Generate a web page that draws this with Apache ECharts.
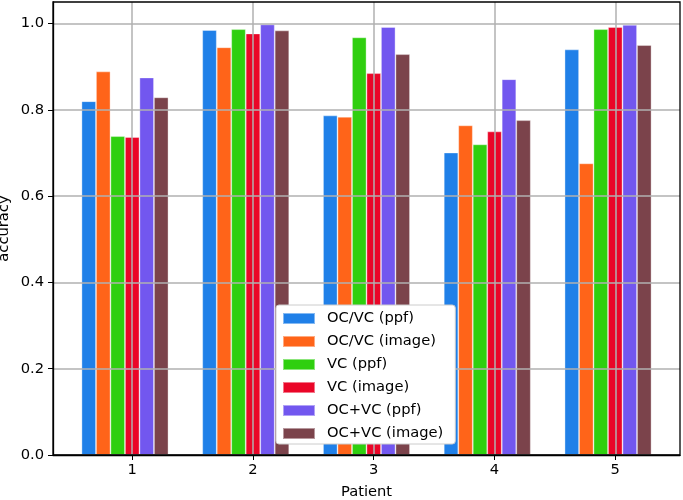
<!DOCTYPE html>
<html>
<head>
<meta charset="utf-8">
<script src="https://cdn.jsdelivr.net/npm/echarts@6/dist/echarts.min.js"></script>
<style>
  html, body { margin: 0; padding: 0; background: #ffffff; }
  #chart { width: 683px; height: 500px; }
</style>
</head>
<body>
<div id="chart"></div>
<script>
// patients on the x axis
var patients = [1, 2, 3, 4, 5];
var yTicks = [0, 0.2, 0.4, 0.6, 0.8, 1.0];

var methodNames = ["OC/VC (ppf)", "OC/VC (image)", "VC (ppf)", "VC (image)", "OC+VC (ppf)", "OC+VC (image)"];
var methodColors = ["#2080e8", "#ff6419", "#2fcf0f", "#ea0628", "#7257ef", "#7b434b"];

var ocvcPpf = [0.820, 0.985, 0.787, 0.701, 0.940];
var ocvcImage = [0.889, 0.945, 0.784, 0.764, 0.676];
var vcPpf = [0.739, 0.987, 0.968, 0.720, 0.987];
var vcImage = [0.737, 0.977, 0.885, 0.750, 0.992];
var ocvcPpfBoth = [0.875, 0.998, 0.992, 0.871, 0.997];
var ocvcImageBoth = [0.829, 0.984, 0.929, 0.776, 0.950];

var allValues = [ocvcPpf, ocvcImage, vcPpf, vcImage, ocvcPpfBoth, ocvcImageBoth];

var BAR_W = 0.12; // bar width in x units
var X_MIN = 0.344;
var X_MAX = 5.536;
var GRID = { left: 53, right: 3, top: 2, bottom: 45 };

var chart = echarts.init(document.getElementById("chart"), null, { renderer: "canvas" });
var plotWidth = 683 - GRID.left - GRID.right;
var barPx = BAR_W * plotWidth / (X_MAX - X_MIN);

var series = methodNames.map(function (name, i) {
    return {
        name: name,
        type: "bar",
        barWidth: barPx,
        barGap: "-100%",
        z: 1,
        itemStyle: {
            color: methodColors[i],
            borderColor: "rgba(255,255,255,0.45)",
            borderWidth: 0.8
        },
        data: patients.map(function (p, k) {
            return [p + (i - 3) * BAR_W, allValues[i][k]];
        })
    };
});

var font = "DejaVu Sans";
var fs = 14.7;

var option = {
    backgroundColor: "#ffffff",
    animation: false,
    textStyle: { fontFamily: font },
    grid: {
        left: GRID.left, right: GRID.right, top: GRID.top, bottom: GRID.bottom,
        outerBoundsMode: "none",
        containLabel: false,
        show: true, borderColor: "#000000", borderWidth: 1.3, z: 5
    },
    legend: {
        orient: "vertical",
        left: 276,
        top: 305,
        padding: [6, 12, 3, 6],
        itemWidth: 32,
        itemHeight: 11,
        itemGap: 8,
        z: 10,
        backgroundColor: "#ffffff",
        borderColor: "#cccccc",
        borderWidth: 1,
        borderRadius: 3,
        icon: "rect",
        textStyle: { fontFamily: font, fontSize: fs, color: "#000000", padding: [0, 0, 0, 7] },
        data: methodNames
    },
    xAxis: {
        type: "value",
        min: X_MIN,
        max: X_MAX,
        z: 3,
        name: "Patient",
        nameLocation: "middle",
        nameGap: 30,
        nameMoveOverlap: false,
        nameTextStyle: { fontFamily: font, fontSize: fs, color: "#000000" },
        axisLine: { lineStyle: { color: "#000000", width: 1.3 } },
        axisTick: { show: true, length: 5, lineStyle: { color: "#000000" }, customValues: patients },
        axisLabel: {
            customValues: patients,
            fontFamily: font, fontSize: fs, color: "#000000", margin: 8,
            formatter: function (v) { return String(v); }
        },
        splitLine: { show: true, lineStyle: { color: "#b0b0b0", width: 1.5 } }
    },
    yAxis: {
        type: "value",
        min: 0,
        max: 1.05,
        z: 3,
        name: "accuracy",
        nameLocation: "middle",
        nameGap: 41,
        nameMoveOverlap: false,
        nameTextStyle: { fontFamily: font, fontSize: fs, color: "#000000" },
        axisLine: { show: true, lineStyle: { color: "#000000", width: 1.3 } },
        axisTick: { show: true, length: 5, lineStyle: { color: "#000000" }, customValues: yTicks },
        axisLabel: {
            customValues: yTicks,
            fontFamily: font, fontSize: fs, color: "#000000", margin: 9,
            formatter: function (v) { return v.toFixed(1); }
        },
        splitLine: { show: true, lineStyle: { color: "#b0b0b0", width: 1.5 } }
    },
    series: series
};

chart.setOption(option);
</script>
</body>
</html>
